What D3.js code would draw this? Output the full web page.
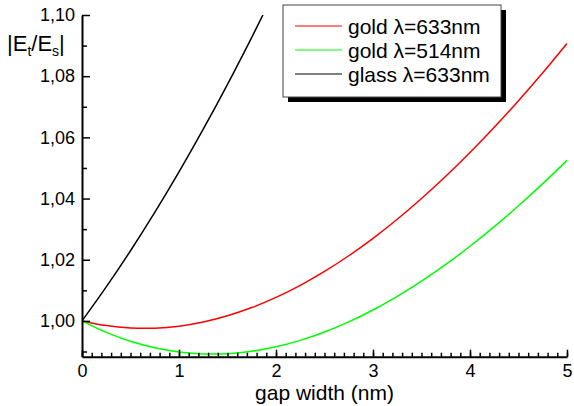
<!DOCTYPE html>
<html>
<head>
<meta charset="utf-8">
<script src="https://cdn.jsdelivr.net/npm/d3@7"></script>
<style>
  body { margin: 0; background: #fff; }
  svg { font-family: "Liberation Sans", Arial, sans-serif; }
  .axis path, .axis line { stroke: #000; }
  .axis text { font-size: 18px; fill: #000; }
</style>
</head>
<body>
<svg id="chart" width="574" height="406"></svg>
<script>
// values
var gapX = [0, 0.25, 0.5, 0.75, 1.0, 1.25, 1.5, 1.75, 2.0, 2.25, 2.5,
            2.75, 3.0, 3.25, 3.5, 3.75, 4.0, 4.25, 4.5, 4.75, 5.0];
var gold633 = [1.00000, 0.99847, 0.99769, 0.99763, 0.99829, 0.99965, 1.00168, 1.00436, 1.00768, 1.01163, 1.01617,
               1.02130, 1.02700, 1.03324, 1.04001, 1.04728, 1.05506, 1.06330, 1.07200, 1.08113, 1.09069];
var gold514 = [1.00000, 0.99626, 0.99333, 0.99120, 0.98983, 0.98920, 0.98929, 0.99008, 0.99153, 0.99363, 0.99635,
               0.99968, 1.00357, 1.00801, 1.01298, 1.01845, 1.02440, 1.03080, 1.03764, 1.04487, 1.05249];
var glassX = [0, 0.25, 0.5, 0.75, 1.0, 1.25, 1.5, 1.75, 1.87];
var glass633 = [1.00000, 1.01111, 1.02293, 1.03546, 1.04870, 1.06266, 1.07733, 1.09271, 1.10034];

var yMajor = [1.00, 1.02, 1.04, 1.06, 1.08, 1.10];
var yMajorLabels = ["1,00", "1,02", "1,04", "1,06", "1,08", "1,10"];
var yMinor = [0.99, 1.01, 1.03, 1.05, 1.07, 1.09];
var xMajor = [0, 1, 2, 3, 4, 5];
var legendNames = ["gold \u03bb=633nm", "gold \u03bb=514nm", "glass \u03bb=633nm"];
var lineColors = ["#ff0000", "#00ff00", "#000000"];

var svg = d3.select("#chart");

var x = d3.scaleLinear().domain([0, 5]).range([82, 567]);
var y = d3.scaleLinear().domain([0.9883, 1.10]).range([356.7, 15]);

svg.append("defs").append("clipPath")
    .attr("id", "plotclip")
  .append("rect")
    .attr("x", x(0)).attr("y", y(1.10))
    .attr("width", x(5) - x(0)).attr("height", y(0.9883) - y(1.10));

var series = [
  { xs: gapX, ys: gold633 },
  { xs: gapX, ys: gold514 },
  { xs: glassX, ys: glass633 }
];

var line = d3.line()
    .x(function(d) { return x(d[0]); })
    .y(function(d) { return y(d[1]); })
    .curve(d3.curveCatmullRom);

svg.append("g")
    .attr("clip-path", "url(#plotclip)")
  .selectAll("path")
    .data(series)
    .enter()
  .append("path")
    .attr("fill", "none")
    .attr("stroke", function(d, i) { return lineColors[i]; })
    .attr("stroke-width", 1.5)
    .attr("d", function(d) { return line(d.xs.map(function(v, i) { return [v, d.ys[i]]; })); });

// x axis: minor ticks every 0.1, major at integers, all pointing in
var xMinor = d3.range(0, 51).map(function(i) { return i / 10; });
svg.append("g")
    .attr("class", "axis")
    .attr("transform", "translate(0," + y(0.9883) + ")")
    .call(d3.axisBottom(x).tickValues(xMinor).tickSizeInner(-4).tickSizeOuter(0).tickFormat(""))
    .call(function(g) { g.select(".domain").remove(); })
    .selectAll("line").attr("stroke-width", 1.5);

svg.append("g")
    .attr("class", "axis")
    .attr("transform", "translate(0," + y(0.9883) + ")")
    .call(d3.axisBottom(x).tickValues(xMajor).tickSizeInner(-7).tickSizeOuter(0).tickPadding(8).tickFormat(d3.format("d")))
    .call(function(g) {
      g.select(".domain").attr("stroke-width", 2);
      g.selectAll("line").attr("stroke-width", 1.5);
    });

// y axis
svg.append("g")
    .attr("class", "axis")
    .attr("transform", "translate(" + x(0) + ",0)")
    .call(d3.axisLeft(y).tickValues(yMinor).tickSizeInner(-5).tickSizeOuter(0).tickFormat(""))
    .call(function(g) { g.select(".domain").remove(); })
    .selectAll("line").attr("stroke-width", 1.5);

svg.append("g")
    .attr("class", "axis")
    .attr("transform", "translate(" + x(0) + ",0)")
    .call(d3.axisLeft(y).tickValues(yMajor).tickSizeInner(-8).tickSizeOuter(0).tickPadding(7)
      .tickFormat(function(d, i) { return yMajorLabels[i]; }))
    .call(function(g) {
      g.select(".domain").attr("stroke-width", 2);
      g.selectAll("line").attr("stroke-width", 1.5);
    });

// axis titles
svg.append("text")
    .attr("x", (x(0) + x(5)) / 2)
    .attr("y", 400)
    .attr("text-anchor", "middle")
    .style("font-size", "21px")
    .text("gap width (nm)");

var yt = svg.append("text")
    .attr("x", 7)
    .attr("y", 51)
    .style("font-size", "22px");
yt.append("tspan").text("|E");
yt.append("tspan").attr("dy", 5).style("font-size", "14px").text("t");
yt.append("tspan").attr("dy", -5).text("/E");
yt.append("tspan").attr("dy", 5).style("font-size", "14px").text("s");
yt.append("tspan").attr("dy", -5).text("|");

// legend
var legend = svg.append("g").attr("transform", "translate(283,5)");
legend.append("rect")
    .attr("x", 5).attr("y", 5).attr("width", 218).attr("height", 92)
    .attr("fill", "#000");
legend.append("rect")
    .attr("width", 218).attr("height", 92)
    .attr("fill", "#fff").attr("stroke", "#444").attr("stroke-width", 1);

var items = legend.selectAll("g.item")
    .data(legendNames)
    .enter()
  .append("g")
    .attr("class", "item")
    .attr("transform", function(d, i) { return "translate(0," + (21 + i * 24) + ")"; });

items.append("line")
    .attr("x1", 12).attr("x2", 59)
    .attr("stroke", function(d, i) { return lineColors[i]; })
    .attr("stroke-width", 1.2);

items.append("text")
    .attr("x", 65)
    .attr("dy", "0.36em")
    .style("font-size", "21px")
    .text(function(d) { return d; });
</script>
</body>
</html>
